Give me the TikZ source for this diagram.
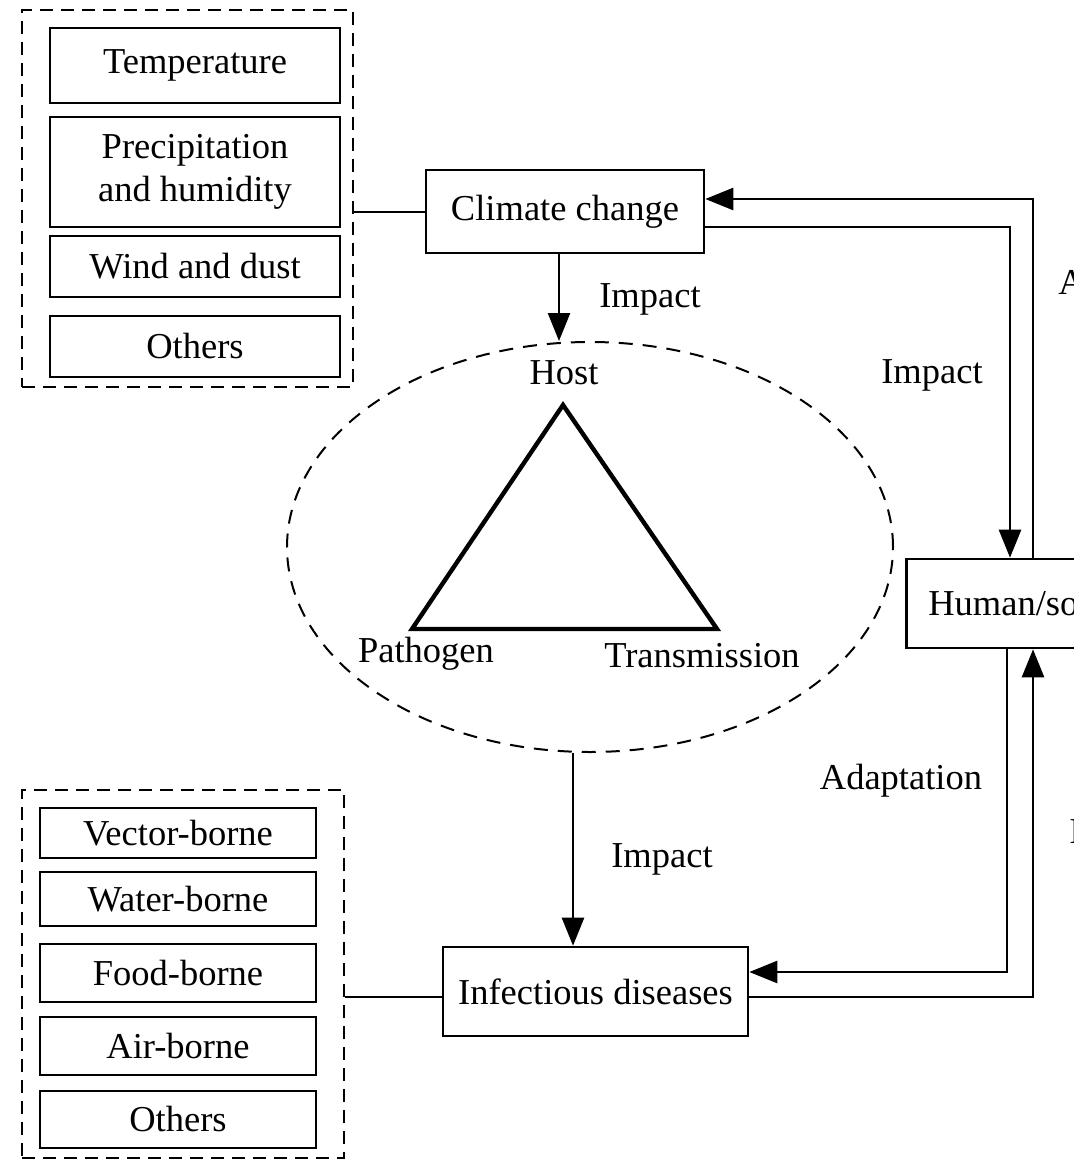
\documentclass[tikz,border=0pt]{standalone}
\usepackage{fontspec}
\setmainfont{Liberation Serif}
\usetikzlibrary{arrows.meta,shapes.geometric}
\begin{document}
\begin{tikzpicture}[x=0.5pt,y=-0.5pt,
  font=\fontsize{18.25pt}{21.5pt}\selectfont,
  box/.style={draw, line width=1.3pt, inner sep=0pt, align=center},
  grp/.style={draw, line width=1.3pt, dash pattern=on 6.5pt off 4pt, inner sep=0pt},
  conn/.style={line width=1.3pt},
  arr/.style={conn, -{Triangle[length=14pt,width=11pt]}},
  lbl/.style={inner sep=0pt}
]
\useasboundingbox (0,0) rectangle (1074,1161);
\clip (0,0) rectangle (1074,1161);

% climate factors group
\node[grp, minimum width=165.5pt, minimum height=188.5pt] (cg) at (187.5,198.5) {};
\node[box, minimum width=145pt, minimum height=37.5pt] (temp) at (195,65.5) {Temperature};
\node[box, minimum width=145pt, minimum height=55pt] (prec) at (195,172) {Precipitation\\and humidity};
\node[box, minimum width=145pt, minimum height=30.5pt] (wind) at (195,266.5) {Wind and dust};
\node[box, minimum width=145pt, minimum height=30.5pt] (oth1) at (195,346.5) {Others};

% main nodes
\node[box, minimum width=139pt, minimum height=41.5pt] (clim) at (565,211.5) {Climate change};
\node[draw, ellipse, line width=1pt, dash pattern=on 7pt off 5pt, minimum width=303pt, minimum height=205pt, inner sep=0pt] (ell) at (590,547) {};
\node[box, minimum width=152.5pt, minimum height=44.5pt] (inf) at (595.5,991.5) {Infectious diseases};
\node[box, anchor=west, minimum height=44.5pt, text width=120pt, align=left, inner xsep=11pt] (hum) at (905,603.5) {Human/so};

% triangle
\node[lbl] (host) at (564,373) {Host};
\node[lbl] (path) at (426,654) {Pathogen};
\node[lbl] (trans) at (702,656) {Transmission};
\draw[line width=2.2pt, line join=miter] (563,405) -- (412,629) -- (717,629) -- cycle;

% disease types group
\node[grp, minimum width=161pt, minimum height=184pt] (dg) at (183,974) {};
\node[box, minimum width=138pt, minimum height=25pt] (vec) at (178,833) {Vector-borne};
\node[box, minimum width=138pt, minimum height=27pt] (wat) at (178,899) {Water-borne};
\node[box, minimum width=138pt, minimum height=29pt] (food) at (178,973) {Food-borne};
\node[box, minimum width=138pt, minimum height=29pt] (air) at (178,1046) {Air-borne};
\node[box, minimum width=138pt, minimum height=28.5pt] (oth2) at (178,1119.5) {Others};

% labels
\node[lbl] (imp1) at (650,299) {Impact};
\node[lbl] (imp2) at (932,375) {Impact};
\node[lbl] (adp1) at (901,781) {Adaptation};
\node[lbl] (imp3) at (662,859) {Impact};
\node[lbl, anchor=base west] (ra) at (1058,294) {A};
\node[lbl, anchor=base west] (ri) at (1069,843) {I};

% helper coordinates
\coordinate (xc) at (559,0);
\coordinate (xa) at (573,0);
\coordinate (xi) at (1010,0);
\coordinate (xo) at (1033,0);
\coordinate (xj) at (1007,0);
\coordinate (ya) at (0,227);
\coordinate (yb) at (0,199);
\coordinate (yc) at (0,972);
\coordinate (yd) at (0,997);
\coordinate (ye) at (0,212);

% connectors
\draw[conn] (cg.east |- ye) -- (clim.west |- ye);
\draw[conn] (dg.east |- yd) -- (inf.west |- yd);
\draw[arr] (xc |- clim.south) -- (xc |- ell.north);
\draw[arr] (xa |- ell.south) -- (xa |- inf.north);
\draw[arr] (clim.east |- ya) -| (xi |- hum.north);
\draw[arr] (xo |- hum.north) |- (clim.east |- yb);
\draw[arr] (xj |- hum.south) |- (inf.east |- yc);
\draw[arr] (inf.east |- yd) -| (xo |- hum.south);
\end{tikzpicture}
\end{document}
